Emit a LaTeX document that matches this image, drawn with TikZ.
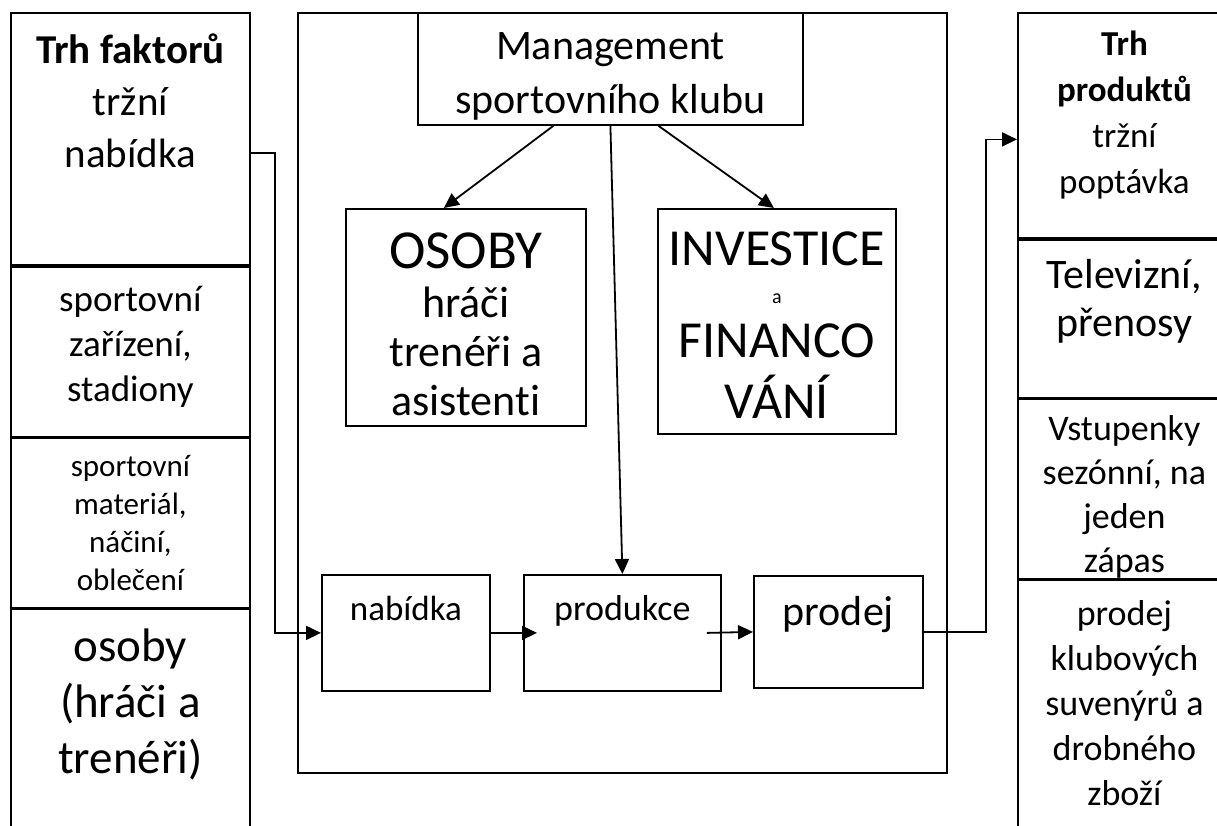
\documentclass[tikz,border=0pt]{standalone}
\usepackage{fontspec}
\setmainfont{Carlito}[Ligatures=NoCommon]
\usetikzlibrary{
    positioning,   % Relative positioning
    arrows.meta,   % Modern arrow tips
    calc           % Coordinate calculations
}

\newcommand{\fsz}[2]{\fontsize{#1}{#2}\selectfont}

\tikzset{
    cell/.style={draw, fill=white, line width=1.8pt, anchor=north west, inner sep=0pt},
    txt/.style={anchor=base, align=flush center, inner sep=0pt, text width=220pt},
    flow/.style={line width=1.8pt, -{Triangle[length=15pt,width=14pt]}}
}

\begin{document}
\begin{tikzpicture}[x=1pt,y=-1pt]
    \useasboundingbox (0,0) rectangle (1217,825);
    \clip (0,0) rectangle (1217,825);

    % trh faktoru
    \node[cell, minimum width=239pt, minimum height=252pt] (fakt) at (10,12) {};
    \node[txt, font=\fsz{41}{52}] (faktT) at ([yshift=-51pt]fakt.north) {\textbf{Trh faktorů}\\tržní\\nabídka};
    \node[cell, minimum width=239pt, minimum height=170pt] (zariz) at (fakt.south west) {};
    \node[txt, font=\fsz{37}{45}] (zarizT) at ([yshift=-46pt]zariz.north) {sportovní\\zařízení,\\stadiony};
    \node[cell, minimum width=239pt, minimum height=169pt] (mat) at (zariz.south west) {};
    \node[txt, font=\fsz{31}{38}] (matT) at ([yshift=-39pt]mat.north) {sportovní\\materiál,\\náčiní,\\oblečení};
    \node[cell, minimum width=239pt, minimum height=250pt] (osob) at (mat.south west) {};
    \node[txt, font=\fsz{47}{56}] (osobT) at ([yshift=-53pt]osob.north) {osoby\\(hráči a\\trenéři)};

    % klub
    \node[cell, minimum width=649pt, minimum height=760pt] (club) at (297,12) {};
    \node[cell, minimum width=385pt, minimum height=112pt] (mgmt) at (417,12) {};
    \node[txt, text width=360pt, font=\fsz{42}{54}] (mgmtT) at ([yshift=-47pt]mgmt.north) {Management\\sportovního klubu};
    \node[cell, minimum width=240pt, minimum height=217pt] (osoby) at (345,208) {};
    \node[txt, font=\fsz{44}{49}] (osobyT) at ([yshift=-60pt]osoby.north) {{\fsz{55}{55}OSOBY}\\hráči\\trenéři a\\asistenti};
    \node[cell, minimum width=238pt, minimum height=225pt] (invest) at (657,208) {};
    \node[txt, text width=230pt, font=\fsz{52}{48}] (investT) at ([yshift=-57pt]invest.north) {INVESTICE\\[-10pt]{\fsz{20}{20}a}\\[6pt]FINANCO\\[13pt]VÁNÍ};
    \node[cell, minimum width=168pt, minimum height=116pt] (nab) at (321,574) {};
    \node[txt, font=\fsz{35}{40}] (nabT) at ([yshift=-46pt]nab.north) {nabídka};
    \node[cell, minimum width=197pt, minimum height=116pt] (prod) at (523,574) {};
    \node[txt, font=\fsz{36}{40}] (prodT) at ([yshift=-46pt]prod.north) {produkce};
    \node[cell, minimum width=169pt, minimum height=112pt] (prodej) at (753,575) {};
    \node[txt, font=\fsz{42}{48}] (prodejT) at ([yshift=-50pt]prodej.north) {prodej};

    % trh produktu
    \node[cell, minimum width=213pt, minimum height=225pt] (trhp) at (1017,12) {};
    \node[txt, font=\fsz{35}{46}] (trhpT) at ([yshift=-43pt]trhp.north) {\textbf{Trh}\\\textbf{produktů}\\tržní\\poptávka};
    \node[cell, minimum width=213pt, minimum height=158pt] (tv) at (trhp.south west) {};
    \node[txt, font=\fsz{42}{48}] (tvT) at ([yshift=-50pt]tv.north) {Televizní,\\přenosy};
    \node[cell, minimum width=213pt, minimum height=179pt] (vst) at (tv.south west) {};
    \node[txt, font=\fsz{36}{44}] (vstT) at ([yshift=-42pt]vst.north) {Vstupenky\\sezónní, na\\jeden\\zápas};
    \node[cell, minimum width=213pt, minimum height=260pt] (suv) at (vst.south west) {};
    \node[txt, font=\fsz{36}{45}] (suvT) at ([yshift=-46pt]suv.north) {prodej\\klubových\\suvenýrů a\\drobného\\zboží};

    % toky
    \draw[flow] ([yshift=-14pt]fakt.east) -- ++(24,0) |- (nab.west);
    \draw[flow] (nab.east) -- ([xshift=14pt]prod.west);
    \draw[flow] ([xshift=-15pt]prod.east) -- (prodej.west);
    \draw[flow] (prodej.east) -- ++(62,0) |- ([yshift=-14pt]trhp.west);
    \draw[flow] ([xshift=-57pt]mgmt.south) -- ([xshift=-22pt]osoby.north);
    \draw[flow] ([xshift=48pt]mgmt.south) -- ([xshift=-3pt]invest.north);
    \draw[flow] (mgmt.south) -- (prod.north);
\end{tikzpicture}
\end{document}
